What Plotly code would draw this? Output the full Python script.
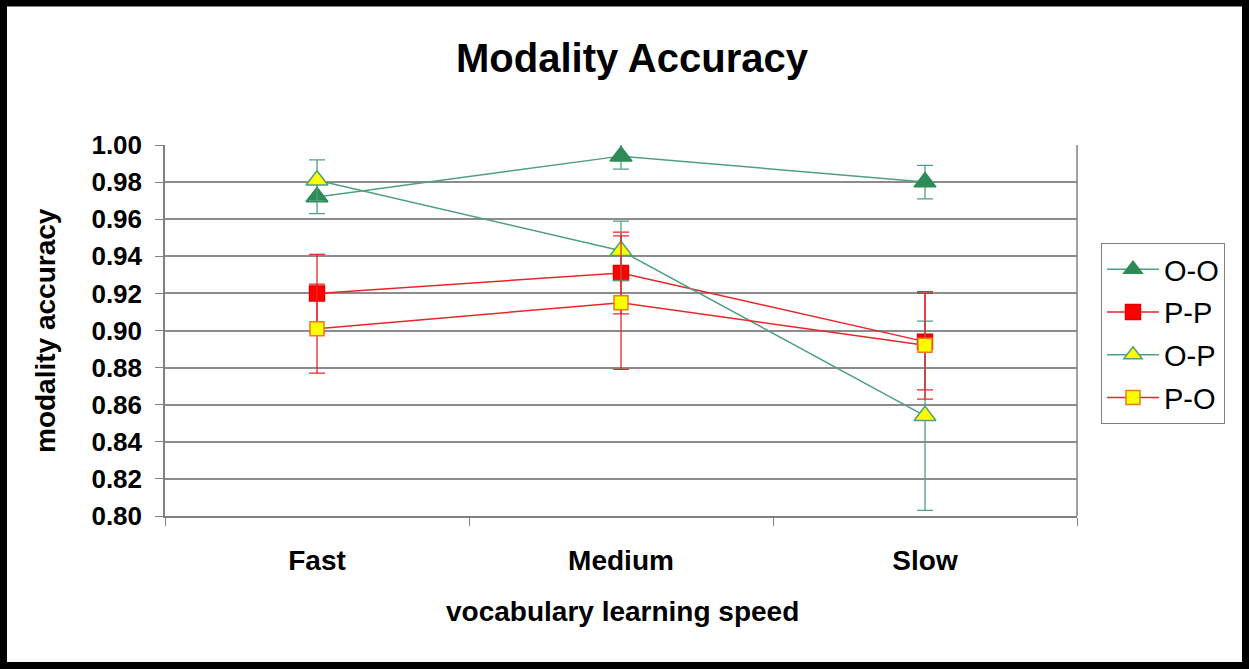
import plotly.graph_objects as go

categories = ["Fast", "Medium", "Slow"]
series_names = ["O-O", "P-P", "O-P", "P-O"]
oo_vals = [0.972, 0.994, 0.980]
oo_err = [0.009, 0.007, 0.009]
pp_vals = [0.920, 0.931, 0.894]
pp_err = [0.021, 0.022, 0.026]
op_vals = [0.981, 0.943, 0.854]
op_err = [0.011, 0.016, 0.051]
po_vals = [0.901, 0.915, 0.892]
po_err = [0.024, 0.036, 0.029]
y_ticks = [0.80, 0.82, 0.84, 0.86, 0.88, 0.90, 0.92, 0.94, 0.96, 0.98, 1.00]

W, H = 1249, 669
L, R, T, B = 165, 172, 145, 153
PW, PH = W - L - R, H - T - B

GREEN_LINE = "#4FA07E"
GREEN_FILL = "#2E8B57"
RED_LINE = "#E8262A"

styles = [
    dict(vals=oo_vals, err=oo_err, line=GREEN_LINE, symbol="triangle-up", size=19,
         fill=GREEN_FILL, border=GREEN_FILL, ecolor=GREEN_LINE),
    dict(vals=pp_vals, err=pp_err, line=RED_LINE, symbol="square", size=15,
         fill="#FF0000", border="#E00000", ecolor=RED_LINE),
    dict(vals=op_vals, err=op_err, line=GREEN_LINE, symbol="triangle-up", size=19,
         fill="#FFFF00", border=GREEN_LINE, ecolor=GREEN_LINE),
    dict(vals=po_vals, err=po_err, line=RED_LINE, symbol="square", size=14,
         fill="#FFFF00", border="#F07820", ecolor=RED_LINE),
]

fig = go.Figure()
for name, s in zip(series_names, styles):
    fig.add_trace(go.Scatter(
        x=categories, y=s["vals"], name=name, mode="lines+markers",
        legendgroup=name,
        line=dict(color=s["line"], width=1.5),
        marker=dict(symbol=s["symbol"], size=s["size"], color=s["fill"],
                    line=dict(color=s["border"], width=1.5)),
        error_y=dict(type="data", array=s["err"], visible=True,
                     color=s["ecolor"], thickness=1.3, width=8),
    ))

def px_x(px):
    return (px - L) / PW

def px_y(py):
    return (H - B - py) / PH

fig.update_layout(
    width=W, height=H,
    margin=dict(l=L, r=R, t=T, b=B, pad=0),
    paper_bgcolor="white", plot_bgcolor="white",
    font=dict(family="Liberation Sans, Arial, sans-serif", color="black"),
    title=dict(text="<b>Modality Accuracy</b>", x=632 / W,
               xanchor="center", y=1 - 58 / H, yanchor="middle",
               font=dict(size=40, color="black")),
    showlegend=True,
    legend=dict(x=px_x(1101), y=px_y(243), xanchor="left", yanchor="top",
                bordercolor="#808080", borderwidth=1, bgcolor="white",
                font=dict(size=29, color="black"), tracegroupgap=2, itemwidth=52),
    xaxis=dict(
        type="category", range=[-0.5, 2.5], tickson="boundaries",
        ticks="outside", ticklen=8, tickcolor="#808080", tickwidth=1,
        showline=True, linecolor="#808080", linewidth=1.5,
        showgrid=False, zeroline=False, mirror=False,
        tickfont=dict(size=28, color="black"),
        ticklabelstandoff=19, automargin=False,
    ),
    yaxis=dict(
        range=[0.80, 1.00], tickvals=y_ticks, ticktext=[f"<b>{v:.2f}</b>" for v in y_ticks],
        ticks="outside", ticklen=8, tickcolor="#808080", tickwidth=1,
        showline=True, linecolor="#808080", linewidth=1.5,
        showgrid=True, gridcolor="#8C8C8C", gridwidth=2, zeroline=False,
        tickfont=dict(size=26, color="black"), ticklabelstandoff=8, automargin=False,
    ),
    annotations=[
        dict(text="<b>vocabulary learning speed</b>", xref="paper", yref="paper",
             x=px_x(622), y=px_y(611), xanchor="center", yanchor="middle",
             showarrow=False, font=dict(size=28, color="black")),
        dict(text="<b>modality accuracy</b>", xref="paper", yref="paper",
             x=px_x(45), y=px_y(331), xanchor="center", yanchor="middle",
             textangle=-90, showarrow=False, font=dict(size=28, color="black")),
    ],
    shapes=[
        dict(type="line", xref="paper", yref="paper", x0=1, x1=1, y0=0, y1=1,
             line=dict(color="#808080", width=1.5), layer="above"),
        dict(type="rect", xref="paper", yref="paper",
             x0=px_x(3.5), x1=px_x(W - 3.5), y0=px_y(H - 3.5), y1=px_y(3),
             line=dict(color="black", width=7), fillcolor="rgba(0,0,0,0)", layer="above"),
    ],
)
fig.update_xaxes(ticktext=[f"<b>{c}</b>" for c in categories], tickvals=categories)

fig.write_html("out.html", config={"displayModeBar": False},
               post_script="document.body.style.margin='0';document.body.style.overflow='hidden';")
